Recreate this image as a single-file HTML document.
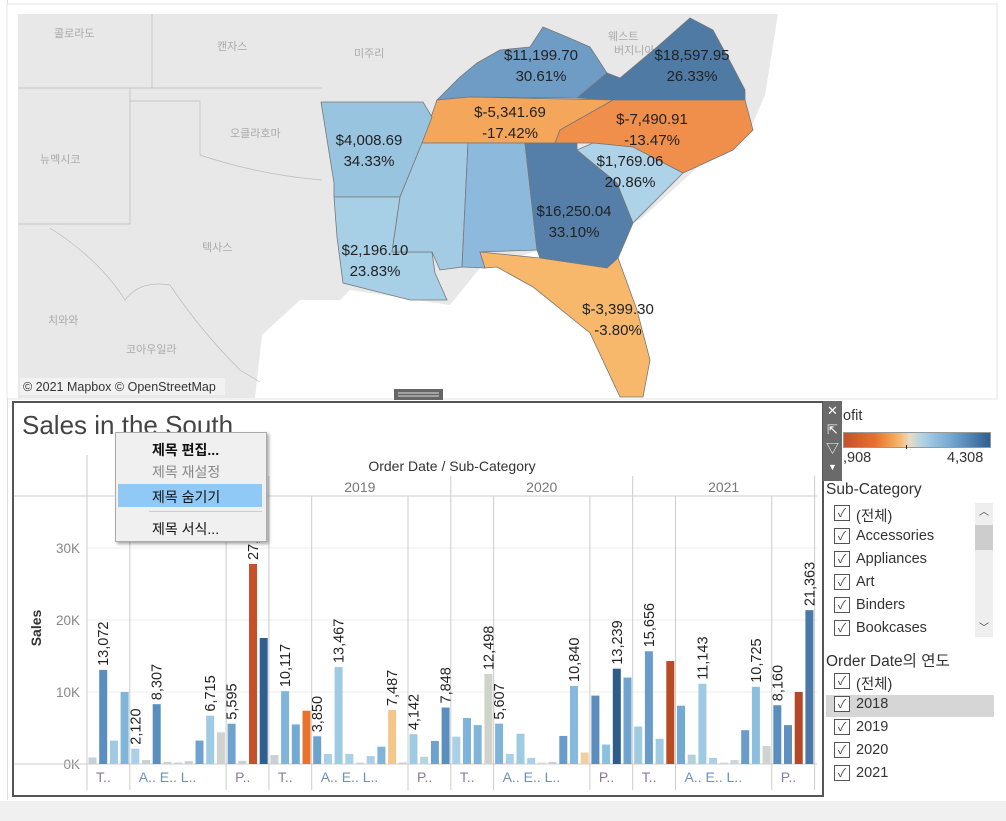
<!DOCTYPE html>
<html><head><meta charset="utf-8">
<style>
body{margin:0;width:1006px;height:821px;overflow:hidden;background:#fff;font-family:"Liberation Sans","Noto Sans CJK KR",sans-serif;position:relative}
.abs{position:absolute}
.cb{position:absolute;width:14px;height:14px;border:1px solid #555;background:#fff;font-size:12px;line-height:14px;text-align:center;color:#444}
.it{position:absolute;font-size:14.5px;color:#333}
</style></head><body>
<div class="abs" style="left:0;top:0;width:7px;height:800px;border-right:1px solid #ddd"></div>
<div class="abs" style="left:0;top:801px;width:1006px;height:20px;background:#f0f0f0"></div>
<svg class="abs" style="left:0;top:0" width="1006" height="400">
<rect x="7" y="4" width="990" height="395" fill="#fff" stroke="#e4e4e4"/>
<rect x="18" y="14" width="977" height="384" fill="#e8e8e8"/>
<polygon fill="#fff" points="255,398 262,335 300,300 340,300 350,290 450,305 480,268 640,220 700,165 750,130 765,95 778,14 995,14 995,398"/>
<g stroke="#bbb" stroke-width="0.7" fill="none">
<path d="M18,88 H322 M152,14 V88 M130,88 V224 H18 M130,101 H200 V155 Q260,175 322,180 M50,228 Q100,260 125,300 Q140,280 170,285 Q200,330 240,370 L260,382"/>
</g>
<g font-size="11" fill="#aaa">
<text x="54" y="37">콜로라도</text><text x="217" y="50">캔자스</text><text x="354" y="57">미주리</text>
<text x="230" y="137">오클라호마</text><text x="40" y="163">뉴멕시코</text><text x="202" y="251">텍사스</text>
<text x="48" y="324">치와와</text><text x="126" y="353">코아우일라</text><text x="608" y="40">웨스트</text><text x="614" y="54">버지니아</text>
</g>
<g stroke="#777" stroke-width="0.8">
<polygon fill="#6f9cc4" points="437,100 460,77 477,63 500,50 530,47 543,27 567,37 590,47 607,73 577,98 470,97"/>
<polygon fill="#4e7aa3" points="577,98 607,73 620,78 657,47 690,18 713,30 720,43 733,67 745,90 745,100 613,100"/>
<polygon fill="#f4a65a" points="470,97 613,100 560,130 555,143 422,143 437,100"/>
<polygon fill="#f08f4c" points="555,143 560,130 613,100 745,100 753,130 733,150 683,173 633,147 593,143"/>
<polygon fill="#98c4e0" points="321,102 423,102 432,117 422,143 400,197 334,197 334,183"/>
<polygon fill="#a7cfe6" points="334,197 400,197 392,252 432,252 435,273 447,300 410,300 343,283 337,237"/>
<polygon fill="#a3cbe3" points="422,143 468,143 462,267 440,270 432,252 392,252 400,197"/>
<polygon fill="#8cb9dc" points="468,143 525,143 537,250 480,252 485,268 462,267"/>
<polygon fill="#557fa8" points="525,143 577,143 577,150 617,183 633,223 618,258 607,268 540,258 537,250"/>
<polygon fill="#f7b86c" points="480,252 540,258 607,268 618,258 637,310 650,360 643,397 620,397 590,333 533,287 497,267 485,268"/>
<polygon fill="#aed2e8" points="577,150 593,143 633,147 683,173 633,223 617,183"/>
</g>
<g font-size="15" fill="#222" text-anchor="middle">
<text x="541" y="60">$11,199.70</text><text x="541" y="81">30.61%</text>
<text x="692" y="60">$18,597.95</text><text x="692" y="81">26.33%</text>
<text x="510" y="117">$-5,341.69</text><text x="510" y="138">-17.42%</text>
<text x="652" y="124">$-7,490.91</text><text x="652" y="145">-13.47%</text>
<text x="369" y="145">$4,008.69</text><text x="369" y="166">34.33%</text>
<text x="630" y="166">$1,769.06</text><text x="630" y="187">20.86%</text>
<text x="574" y="216">$16,250.04</text><text x="574" y="237">33.10%</text>
<text x="375" y="255">$2,196.10</text><text x="375" y="276">23.83%</text>
<text x="618" y="314">$-3,399.30</text><text x="618" y="335">-3.80%</text>
</g>
<rect x="20" y="378" width="205" height="17" fill="#f4f4f4" opacity="0.8"/>
<text x="23" y="391" font-size="12.5" fill="#333">© 2021 Mapbox © OpenStreetMap</text>
<rect x="394" y="389" width="49" height="11" fill="#666"/>
<line x1="398" y1="393" x2="439" y2="393" stroke="#ddd"/><line x1="398" y1="396" x2="439" y2="396" stroke="#ddd"/>
<line x1="823" y1="401" x2="995" y2="401" stroke="#b8c4d0" stroke-dasharray="5,3"/>
</svg>

<div class="abs" style="left:12px;top:401px;width:808px;height:392px;border:2px solid #555"></div>
<div class="abs" style="left:22px;top:410px;font-size:26px;color:#444">Sales in the South</div>
<svg id="chart" class="abs" style="left:0;top:0" width="822" height="800"></svg>

<div class="abs" style="left:115px;top:432px;width:150px;height:108px;background:#f0f0f0;border:1px solid #aaa;box-shadow:2px 2px 3px rgba(0,0,0,.35);font-size:14px">
<div style="position:absolute;left:36px;top:7px;font-weight:bold;color:#111">제목 편집...</div>
<div style="position:absolute;left:36px;top:29px;color:#888">제목 재설정</div>
<div style="position:absolute;left:2px;top:51px;width:144px;height:23px;background:#90c8f6"><span style="position:absolute;left:34px;top:3px;color:#111">제목 숨기기</span></div>
<div style="position:absolute;left:33px;top:78px;width:113px;height:1px;background:#ccc"></div>
<div style="position:absolute;left:36px;top:86px;color:#111">제목 서식...</div>
</div>

<div class="abs" style="left:823px;top:401px;width:19px;height:80px;background:#6a6a6a;color:#fff;font-size:13px;text-align:center;line-height:19px">
<div>✕</div><div>⇱</div><div>▽</div><div style="font-size:9px">▼</div></div>
<div class="abs" style="left:843px;top:408px;font-size:14.5px;color:#333">ofit</div>
<div class="abs" style="left:843px;top:432px;width:146px;height:14px;border:1px solid #999;background:linear-gradient(90deg,#c4512a,#e8732c 22%,#f7b86c 38%,#e8dcc8 45%,#a9d0e6 55%,#6fa3cf 75%,#2f5f8f)"></div>
<div class="abs" style="left:906px;top:445px;width:1px;height:4px;background:#222"></div>
<div class="abs" style="left:843px;top:450px;font-size:14.5px;color:#333">,908</div>
<div class="abs" style="left:947px;top:450px;font-size:14.5px;color:#333">4,308</div>
<div class="abs" style="left:826px;top:481px;font-size:15.5px;color:#333">Sub-Category</div>
<div class="abs" style="left:975px;top:503px;width:18px;height:134px;background:#eee"><div style="position:absolute;top:22px;width:18px;height:25px;background:#cdcdcd"></div><div style="position:absolute;top:0;width:18px;text-align:center;font-size:10px;color:#444">︿</div><div style="position:absolute;top:116px;width:18px;text-align:center;font-size:10px;color:#444">﹀</div></div>
<div class="abs" style="left:826px;top:649px;font-size:15.5px;color:#333">Order Date의 연도</div>
<div class="abs" style="left:826px;top:695px;width:168px;height:22px;background:#d6d6d6"></div>
<div id="filters"></div>

<script>
const subItems=["(전체)","Accessories","Appliances","Art","Binders","Bookcases"];
const yearItems=["(전체)","2018","2019","2020","2021"];
const fl=document.getElementById('filters');
function addItems(list,y0,nm){list.forEach((t,i)=>{const y=y0+i*23;
const c=document.createElement('div');c.className='cb';c.style.left='834px';c.style.top=(y-10)+'px';c.textContent='✓';


fl.appendChild(c);
const s=document.createElement('div');s.className='it';s.style.left='856px';s.style.top=(y-10)+'px';s.textContent=t;


fl.appendChild(s);});}
addItems(subItems,515,'sub-category');
addItems(yearItems,683,'year');

// ---- chart data ----
const years=["2018","2019","2020","2021"];
const groupLabels=["T..","A.. E.. L..","P.."];
const groupSizes=[4,9,4];
const yTicks=[0,10000,20000,30000];
const yTickLabels=["0K","10K","20K","30K"];
const sales2018=[900,13072,3250,10000,2120,550,8307,300,200,400,3250,6715,4400,5595,450,27776,17500];
const sales2019=[1250,10117,5500,7400,3850,1400,13467,1400,200,1100,2400,7487,200,4142,1000,3200,7848];
const sales2020=[3800,6400,5400,12498,5607,1400,4200,850,200,300,3900,10840,1600,9500,2700,13239,12000];
const sales2021=[5200,15656,3500,14300,8100,1300,11143,850,200,550,4700,10725,2500,8160,5400,10000,21363];
const labeled2018=[0,1,0,0,1,0,1,0,0,0,0,1,0,1,0,1,0];
const labeled2019=[0,1,0,0,1,0,1,0,0,0,0,1,0,1,0,0,1];
const labeled2020=[0,0,0,1,1,0,0,0,0,0,0,1,0,0,0,1,0];
const labeled2021=[0,1,0,0,0,0,1,0,0,0,0,1,0,1,0,0,1];
const colors2018=["#c8d0d3","#5a8ebf","#9fcbe2","#80b5d9","#a9d0e6","#c8d0d3","#5a8ebf","#c8d0d3","#c8d0d3","#c8d0d3","#6fa3cf","#9fcbe2","#cfd3d0","#6fa3cf","#c8d0d3","#c4512a","#2f5f8f"];
const colors2019=["#c8d0d3","#80b5d9","#72aad3","#e8732c","#6fa3cf","#a9d0e6","#9fcbe2","#a9d0e6","#c8d0d3","#a9d0e6","#80b5d9","#f5c68a","#c8d0d3","#9fcbe2","#b8d3df","#6fa3cf","#5a8ebf"];
const colors2020=["#a9d0e6","#7fb3d8","#80b5d9","#d0d2cc","#7fb3d8","#a9d0e6","#9fcbe2","#a9d0e6","#d0d8d8","#c8d0d3","#6a9ccb","#85bade","#f0cfa0","#5a8ebf","#8cc0e0","#2d5c8a","#6fa3cf"];
const colors2021=["#9fcbe2","#6a9ccb","#9fcbe2","#b84d24","#72aad3","#b3d0db","#9fcbe2","#a9d0e6","#d0d8d8","#c8d6da","#6a9ccb","#8cbfde","#d0d4ce","#5a8ebf","#5f90c0","#b4492a","#4a78a8"];
const salesByYear=[sales2018,sales2019,sales2020,sales2021];
const labeledByYear=[labeled2018,labeled2019,labeled2020,labeled2021];
const colorsByYear=[colors2018,colors2019,colors2020,colors2021];

const svg=document.getElementById('chart');const NS='http://www.w3.org/2000/svg';
const X0=87,PITCH=10.7,BARW=8,Y0=764,PXK=7.2;
const yScale=v=>Y0-v/1000*PXK;
const xScale=(yi,i)=>X0+yi*17*PITCH+i*PITCH;
function mk(tag,attrs,parent){const e=document.createElementNS(NS,tag);for(const k in attrs)e.setAttribute(k,attrs[k]);(parent||svg).appendChild(e);return e;}
yTicks.forEach((t,i)=>{
 const y=yScale(t);
 const g=mk('line',{x1:87,x2:817,y1:y,y2:y,stroke:i==0?'#ccc':'#eee'});
 
 
 const tx=mk('text',{x:80,y:y+5,'text-anchor':'end','font-size':13.5,fill:'#888'});tx.textContent=yTickLabels[i];
 
 
});
mk('line',{x1:14,x2:817,y1:764,y2:764,stroke:'#ccc'});
mk('line',{x1:14,x2:817,y1:496,y2:496,stroke:'#ccc'});
const yt=mk('text',{x:0,y:0,transform:'translate(41,628) rotate(-90)','text-anchor':'middle','font-size':14,'font-weight':'bold',fill:'#333'});yt.textContent='Sales';


const ht=mk('text',{x:452,y:471,'text-anchor':'middle','font-size':14,fill:'#333'});ht.textContent='Order Date / Sub-Category';


mk('line',{x1:87,x2:87,y1:455,y2:790,stroke:'#ccc'});
years.forEach((yr,yi)=>{
 const xs=xScale(yi,0),xe=xScale(yi+1,0);
 mk('line',{x1:xe,x2:xe,y1:476,y2:790,stroke:'#ccc'});
 const t=mk('text',{x:(xs+xe)/2,y:492,'text-anchor':'middle','font-size':14,fill:'#777'});t.textContent=yr;
 
 
 let idx=0;
 groupLabels.forEach((gl,gi)=>{
  const gx=xScale(yi,idx);
  if(gi>0)mk('line',{x1:gx,x2:gx,y1:496,y2:790,stroke:'#ccc'});
  const l=mk('text',{x:gx+9,y:782,'font-size':14,fill:gi==1?'#7090b8':'#8a7a9a'});l.textContent=gl;
  
  
  idx+=groupSizes[gi];
 });
 salesByYear[yi].forEach((v,i)=>{
  const x=xScale(yi,i)+1.5,y=yScale(v);
  const r=mk('rect',{x:x,y:y,width:BARW,height:Y0-y,fill:colorsByYear[yi][i]});
  
  
  if(labeledByYear[yi][i]){
   const t=mk('text',{x:0,y:0,transform:`translate(${x+BARW/2+5},${y-4}) rotate(-90)`,'font-size':14.5,fill:'#222'});
   t.textContent=v.toLocaleString('en-US');
   
   
  }
 });
});
</script>
</body></html>
